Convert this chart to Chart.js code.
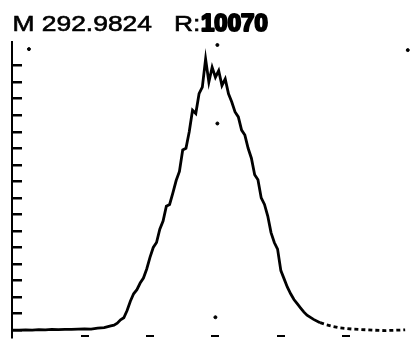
<!DOCTYPE html>
<html>
<head>
<meta charset="utf-8">
<script src="https://cdn.jsdelivr.net/npm/chart.js@4"></script>
<style>
  html, body { margin: 0; padding: 0; background: #fff; }
  #wrap { width: 415px; height: 342px; }
</style>
</head>
<body>
<div id="wrap"><canvas id="c" width="415" height="342"></canvas></div>
<script>
// ---- data ----
const titleMain = 'M 292.9824   R:';
const titleResolution = '10070';
const massOffset = [
  -3.1, -3.0, -2.9, -2.8, -2.7, -2.6, -2.5, -2.4, -2.3, -2.2, -2.1, -2.0, -1.9, -1.8, -1.7,
  -1.6, -1.55, -1.5, -1.45, -1.4, -1.35, -1.3, -1.25, -1.2, -1.15, -1.1, -1.05, -1.0,
  -0.95, -0.9, -0.85, -0.8, -0.75, -0.7, -0.65, -0.6, -0.55, -0.5, -0.45, -0.4, -0.35,
  -0.3, -0.25, -0.2, -0.15, -0.1, -0.05, 0.0, 0.05, 0.1, 0.15, 0.2, 0.25, 0.3, 0.35,
  0.4, 0.45, 0.5, 0.55, 0.6, 0.65, 0.7, 0.75, 0.8, 0.85, 0.9, 0.95, 1.0, 1.05, 1.1,
  1.15, 1.2, 1.25, 1.3, 1.35, 1.4, 1.5, 1.6, 1.7, 1.8, 1.9, 2.0, 2.1, 2.2, 2.4, 2.6, 2.8, 2.9
];
const intensity = [
  0.0, 0.0, 0.02, 0.0, 0.03, 0.02, 0.04, 0.03, 0.05, 0.04, 0.06, 0.08, 0.06, 0.12, 0.15,
  0.26, 0.30, 0.42, 0.62, 0.75, 1.19, 1.75, 2.2, 2.45, 2.85, 3.15, 3.7, 4.4,
  5.0, 5.3, 6.1, 6.6, 7.5, 7.6, 8.3, 9.05, 9.6, 10.9, 11.0, 12.0, 13.3,
  13.1, 14.3, 14.7, 16.4, 15.0, 15.9, 15.3, 15.7, 14.8, 15.2, 14.3, 13.8, 13.2, 12.9,
  12.1, 11.8, 11.0, 10.4, 9.4, 9.1, 8.0, 7.6, 6.9, 5.9, 5.3, 4.9, 3.6, 3.1, 2.6,
  2.2, 1.85, 1.6, 1.35, 1.1, 0.9, 0.65, 0.45, 0.32, 0.22, 0.14, 0.10, 0.06, 0.04, 0.0, -0.03, 0.0, 0.02
];
const markX = [-2.85, 0.03, 0.03, 0.0, 2.94];
const markY = [17.0, 17.25, 12.5, 0.78, 16.94];
const xTicks = [-2, -1, 0, 1, 2];
const yTicks = [0, 1, 2, 3, 4, 5, 6, 7, 8, 9, 10, 11, 12, 13, 14, 15, 16];

const peak = massOffset.map((x, i) => ({ x: x, y: intensity[i] }));
const marks = markX.map((x, i) => ({ x: x, y: markY[i] }));

// header text: "M ... R:" in regular weight (slightly widened), resolution value in heavy bold
const headerPlugin = {
  id: 'header',
  afterDraw(chart) {
    const ctx = chart.ctx;
    ctx.save();
    ctx.fillStyle = '#000';
    ctx.strokeStyle = '#000';
    ctx.textBaseline = 'alphabetic';
    ctx.textAlign = 'left';
    ctx.save();
    ctx.translate(12.5, 30.5);
    ctx.scale(1.2, 1);
    ctx.font = 'normal 22px "Liberation Sans"';
    ctx.lineWidth = 0.6;
    ctx.fillText(titleMain, 0, 0);
    ctx.strokeText(titleMain, 0, 0);
    ctx.restore();
    ctx.font = 'bold 24px "Liberation Sans"';
    ctx.lineWidth = 2.2;
    ctx.lineJoin = 'round';
    ctx.strokeText(titleResolution, 201, 31);
    ctx.fillText(titleResolution, 201, 31);
    ctx.restore();
  }
};

new Chart(document.getElementById('c'), {
  type: 'line',
  data: {
    datasets: [
      {
        label: 'M 292.9824',
        data: peak,
        borderColor: '#000',
        borderWidth: 2.8,
        pointRadius: 0,
        tension: 0,
        fill: false,
        segment: {
          borderDash: ctx => ctx.p0.parsed.x > 1.55 ? [4, 3] : undefined
        }
      },
      {
        label: 'marks',
        data: marks,
        showLine: false,
        pointRadius: 1.5,
        pointBackgroundColor: '#000',
        pointBorderColor: '#000'
      }
    ]
  },
  plugins: [headerPlugin],
  options: {
    responsive: false,
    animation: false,
    devicePixelRatio: 1,
    layout: { padding: { left: 12, right: 0, top: 42, bottom: 0 } },
    plugins: {
      legend: { display: false },
      tooltip: { enabled: false },
      title: { display: false }
    },
    scales: {
      x: {
        type: 'linear',
        min: -3.109,
        max: 2.974,
        afterFit: s => { s.height = 0; },
        afterBuildTicks: s => { s.ticks = xTicks.map(v => ({ value: v })); },
        border: { display: false },
        grid: { drawOnChartArea: false, drawTicks: true, tickLength: -2, lineWidth: 8, color: '#000' },
        ticks: { display: false }
      },
      y: {
        type: 'linear',
        min: -0.416,
        max: 17.43,
        afterFit: s => { s.width = 0; },
        afterBuildTicks: s => { s.ticks = yTicks.map(v => ({ value: v })); },
        border: { display: true, color: '#000', width: 2 },
        grid: { drawOnChartArea: false, drawTicks: true, tickLength: -10, lineWidth: 2.5, color: '#000' },
        ticks: { display: false }
      }
    }
  }
});
</script>
</body>
</html>
